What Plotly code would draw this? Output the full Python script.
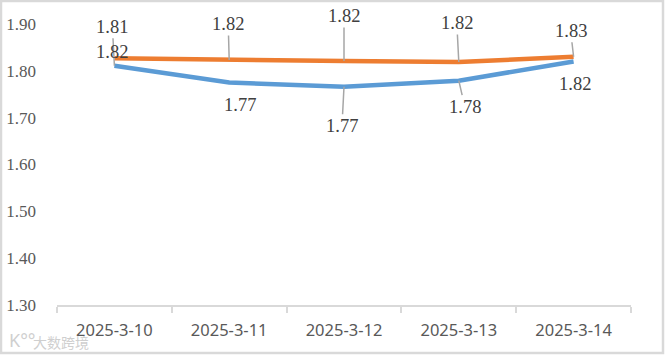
import plotly.graph_objects as go

categories = ["2025-3-10", "2025-3-11", "2025-3-12", "2025-3-13", "2025-3-14"]
series_blue = [1.811, 1.775, 1.766, 1.779, 1.820]
series_orange = [1.827, 1.823, 1.821, 1.819, 1.830]
labels_blue = ["1.81", "1.77", "1.77", "1.78", "1.82"]
labels_orange = ["1.82", "1.82", "1.82", "1.82", "1.83"]
y_ticks = [1.30, 1.40, 1.50, 1.60, 1.70, 1.80, 1.90]

W, H = 665, 355
L, R, T, B = 57, 34, 24, 50
SERIF = "Liberation Serif"
INK = "#404040"
GREY = "#D9D9D9"
LEADER = "#A6A6A6"

# label offsets from the data point (px) and whether a leader line is drawn
blue_off = [(-2, -39, True), (11, 22, False), (-2, 39, True), (6, 26, True), (1, 23, False)]
orange_off = [(-2, -6, False), (-1, -36, True), (0, -45, True), (-2, -39, True), (-3, -26, True)]

fig = go.Figure()
fig.add_trace(go.Scatter(x=categories, y=series_blue, mode="lines",
                         line=dict(color="#5B9BD5", width=4.5), showlegend=False))
fig.add_trace(go.Scatter(x=categories, y=series_orange, mode="lines",
                         line=dict(color="#ED7D31", width=4.5), showlegend=False))

anns = []
for vals, labs, offs in ((series_blue, labels_blue, blue_off), (series_orange, labels_orange, orange_off)):
    for c, v, t, (dx, dy, lead) in zip(categories, vals, labs, offs):
        a = dict(x=c, y=v, xref="x", yref="y", text=t, xanchor="center", yanchor="middle",
                 font=dict(family=SERIF, size=18.5, color=INK))
        if lead:
            a.update(showarrow=True, arrowhead=0, arrowwidth=1.5, arrowcolor=LEADER,
                     ax=dx, ay=dy, axref="pixel", ayref="pixel", standoff=0, startstandoff=0)
        else:
            a.update(showarrow=False, xshift=dx, yshift=-dy)
        anns.append(a)

# watermark
anns.append(dict(xref="paper", yref="paper", x=(7 - L) / (W - L - R), y=(H - B - 340) / (H - T - B),
                 text="K°°", showarrow=False, xanchor="left", yanchor="middle",
                 font=dict(family="Noto Sans", size=18, color="#CFCFCF")))
anns.append(dict(xref="paper", yref="paper", x=(31 - L) / (W - L - R), y=(H - B - 342) / (H - T - B),
                 text="大数跨境", showarrow=False, xanchor="left", yanchor="middle",
                 font=dict(family="Noto Sans CJK SC", size=14, color="#CFCFCF")))

# outer picture frame
pw, ph = W - L - R, H - T - B
frame = dict(type="rect", xref="paper", yref="paper",
             x0=(1 - L) / pw, x1=(W - 2 - L) / pw,
             y0=(H - B - (H - 2)) / ph, y1=(H - B - 1) / ph,
             line=dict(color=GREY, width=2.5), fillcolor="rgba(0,0,0,0)", layer="below")

fig.update_layout(
    width=W, height=H, margin=dict(l=L, r=R, t=T, b=B, autoexpand=False),
    paper_bgcolor="white", plot_bgcolor="white", showlegend=False,
    annotations=anns, shapes=[frame],
    xaxis=dict(type="category", categoryorder="array", categoryarray=categories, range=[-0.5, 4.5],
               tickson="boundaries", ticks="outside", ticklen=6, tickwidth=2, tickcolor=GREY,
               showline=True, linecolor=GREY, linewidth=2, showgrid=False, zeroline=False,
               ticklabelstandoff=9, tickfont=dict(family="Noto Sans", size=16.5, color="#595959")),
    yaxis=dict(range=[1.30, 1.90], tickmode="array", tickvals=y_ticks,
               ticktext=[f"{v:.2f}" for v in y_ticks], showgrid=False, zeroline=False, showline=False,
               ticks="", ticklabelstandoff=20, tickfont=dict(family=SERIF, size=17, color="#595959")),
)
fig.write_html("out.html", post_script="document.body.style.margin='0';",
               config={"displayModeBar": False})
